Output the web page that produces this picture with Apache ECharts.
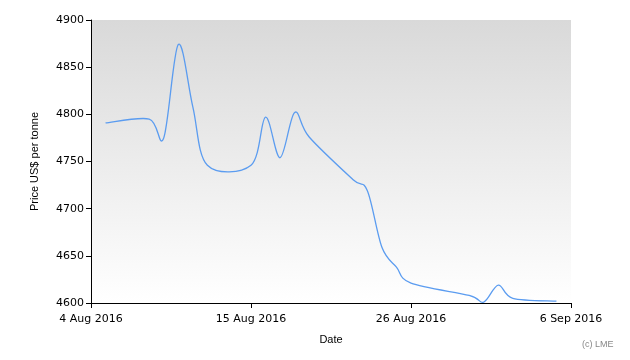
<!DOCTYPE html>
<html><head><meta charset="utf-8">
<script src="https://cdn.jsdelivr.net/npm/echarts@6/dist/echarts.min.js"></script>
<style>html,body{margin:0;padding:0;background:#fff}#c{width:630px;height:360px}</style>
</head><body><div id="c"></div>
<script>
const dates = ["2016-08-05","2016-08-08","2016-08-09","2016-08-10","2016-08-11","2016-08-12","2016-08-15","2016-08-16","2016-08-17","2016-08-18","2016-08-19","2016-08-22","2016-08-23","2016-08-24","2016-08-25","2016-08-26","2016-08-30","2016-08-31","2016-09-01","2016-09-02","2016-09-05"];
const prices = [4791,4795,4775,4874,4808,4746,4746,4797,4754,4802,4776,4731,4719,4659,4638,4621,4608,4601,4619,4605,4602];
const xTickLabels = ["4 Aug 2016","15 Aug 2016","26 Aug 2016","6 Sep 2016"];
const yTicks = [4600,4650,4700,4750,4800,4850,4900];
const startDate = "2016-08-04";
const DAY = 86400000;
const t0 = Date.parse(startDate);
const seriesData = dates.map((d,i)=>[(Date.parse(d)-t0)/DAY, prices[i]]);
const chart = echarts.init(document.getElementById('c'), null, {renderer:'canvas'});
const font = 'DejaVu Sans';

// Catmull-Rom spline through the data points, positioned with the axis scales (api.coord)
function renderLine(params, api){
  if (params.dataIndex !== 0) return null;
  const pts = seriesData.map(d => api.coord(d));
  const n = pts.length;
  let path = 'M' + pts[0][0] + ' ' + pts[0][1];
  for (let i = 0; i < n - 1; i++){
    const p0 = pts[Math.max(i-1,0)], p1 = pts[i], p2 = pts[i+1], p3 = pts[Math.min(i+2,n-1)];
    const c1x = p1[0] + (p2[0]-p0[0])/6, c1y = p1[1] + (p2[1]-p0[1])/6;
    const c2x = p2[0] - (p3[0]-p1[0])/6, c2y = p2[1] - (p3[1]-p1[1])/6;
    path += ' C' + c1x + ' ' + c1y + ' ' + c2x + ' ' + c2y + ' ' + p2[0] + ' ' + p2[1];
  }
  return {type:'path', shape:{pathData:path}, style:{fill:'none', stroke:'#5b9cf0', lineWidth:1.3}};
}

chart.setOption({
  animation:false,
  grid:{left:91,right:59,top:20,bottom:57,show:true,borderWidth:0,
    backgroundColor:new echarts.graphic.LinearGradient(0,0,0,1,[{offset:0,color:'#d9d9d9'},{offset:1,color:'#ffffff'}])},
  xAxis:{type:'value',min:0,max:33,interval:11,
    name:'Date',nameLocation:'middle',nameGap:31,
    nameTextStyle:{fontFamily:'Liberation Sans',fontSize:11,color:'#000'},
    axisLine:{show:true,lineStyle:{color:'#000',width:1}},
    axisTick:{show:true,length:5,lineStyle:{color:'#000'}},
    splitLine:{show:false},
    axisLabel:{fontFamily:font,fontSize:11,color:'#000',margin:11,
      formatter:v=>xTickLabels[Math.round(v/11)]}},
  yAxis:{type:'value',min:yTicks[0],max:yTicks[yTicks.length-1],interval:50,
    name:'Price US$ per tonne',nameLocation:'middle',nameGap:51,
    nameTextStyle:{fontFamily:'Liberation Sans',fontSize:11,color:'#000'},
    axisLine:{show:true,lineStyle:{color:'#000',width:1}},
    axisTick:{show:true,length:5,lineStyle:{color:'#000'}},
    splitLine:{show:false},
    axisLabel:{fontFamily:font,fontSize:11,color:'#000',margin:7,formatter:v=>String(v)}},
  series:[{type:'custom',data:seriesData,renderItem:renderLine,encode:{x:0,y:1},silent:true}],
  graphic:[{type:'text',left:582,top:340,style:{text:'(c) LME',fontFamily:'Liberation Sans',fontSize:9,fill:'#888'}}]
});
</script></body></html>
